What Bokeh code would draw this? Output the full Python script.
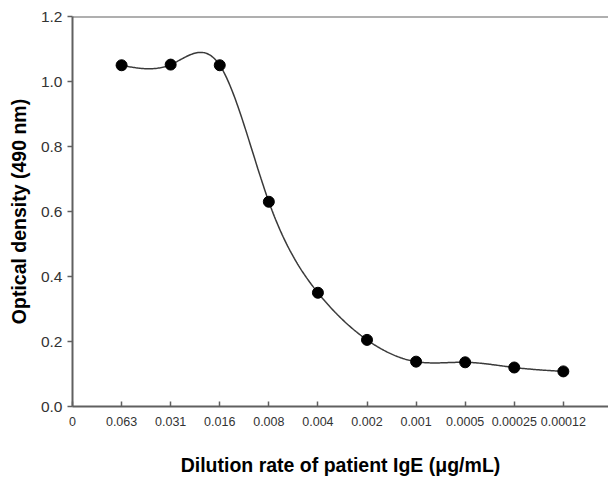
import numpy as np
from bokeh.plotting import figure
from bokeh.models import FixedTicker, Span, Range1d
from bokeh.embed import file_html
from bokeh.resources import INLINE

tick_positions = [0, 1, 2, 3, 4, 5, 6, 7, 8, 9, 10]
tick_labels = ["0", "0.063", "0.031", "0.016", "0.008", "0.004", "0.002",
               "0.001", "0.0005", "0.00025", "0.00012"]
x_pos = [1, 2, 3, 4, 5, 6, 7, 8, 9, 10]
od = [1.050, 1.052, 1.050, 0.630, 0.350, 0.205, 0.138, 0.136, 0.120, 0.108]


def natural_spline(x, y, n=400):
    x = np.asarray(x, float)
    y = np.asarray(y, float)
    k = len(x)
    h = np.diff(x)
    A = np.zeros((k, k))
    b = np.zeros(k)
    A[0, 0] = 1
    A[-1, -1] = 1
    for i in range(1, k - 1):
        A[i, i - 1] = h[i - 1]
        A[i, i] = 2 * (h[i - 1] + h[i])
        A[i, i + 1] = h[i]
        b[i] = 6 * ((y[i + 1] - y[i]) / h[i] - (y[i] - y[i - 1]) / h[i - 1])
    M = np.linalg.solve(A, b)
    xs = np.linspace(x[0], x[-1], n)
    idx = np.clip(np.searchsorted(x, xs) - 1, 0, k - 2)
    x0, x1 = x[idx], x[idx + 1]
    hh = x1 - x0
    t0 = x1 - xs
    t1 = xs - x0
    ys = (M[idx] * t0 ** 3 / (6 * hh) + M[idx + 1] * t1 ** 3 / (6 * hh)
          + (y[idx] / hh - M[idx] * hh / 6) * t0
          + (y[idx + 1] / hh - M[idx + 1] * hh / 6) * t1)
    return xs, ys


p = figure(width=608, height=478, output_backend="svg", toolbar_location=None,
           x_range=Range1d(0, 10.92), y_range=Range1d(0, 1.2),
           min_border_left=72, min_border_right=0, min_border_top=16,
           min_border_bottom=72)
p.outline_line_color = None
p.grid.visible = False
p.background_fill_color = "white"
p.border_fill_color = "white"

xs, ys = natural_spline(x_pos, od)
p.line(xs, ys, line_color="#3a3a3a", line_width=1.5)
p.scatter(x_pos, od, size=11, fill_color="black", line_color="black")

p.add_layout(Span(location=1.2, dimension="width", line_color="#606060", line_width=2))

font = "Liberation Sans"
xa = p.xaxis[0]
xa.ticker = FixedTicker(ticks=tick_positions)
xa.major_label_overrides = {t: l for t, l in zip(tick_positions, tick_labels)}
xa.major_tick_in = 5
xa.major_tick_out = 0
xa.minor_tick_line_color = None
xa.axis_line_color = "#606060"
xa.axis_line_width = 2
xa.major_tick_line_color = "#606060"
xa.major_tick_line_width = 1.5
xa.major_label_text_font = font
xa.major_label_text_font_size = "12.5px"
xa.major_label_text_color = "#333333"
xa.major_label_standoff = 10
xa.axis_label = "Dilution rate of patient IgE (\u03bcg/mL)"
xa.axis_label_text_font = font
xa.axis_label_text_font_style = "bold"
xa.axis_label_text_font_size = "19.5px"
xa.axis_label_text_color = "black"
xa.axis_label_standoff = 25

ya = p.yaxis[0]
ya.ticker = FixedTicker(ticks=[0, 0.2, 0.4, 0.6, 0.8, 1.0, 1.2])
ya.major_label_overrides = {0: "0.0", 0.2: "0.2", 0.4: "0.4", 0.6: "0.6",
                            0.8: "0.8", 1.0: "1.0", 1.2: "1.2"}
ya.major_tick_in = 0
ya.major_tick_out = 5
ya.minor_tick_line_color = None
ya.axis_line_color = "#606060"
ya.axis_line_width = 2
ya.major_tick_line_color = "#606060"
ya.major_tick_line_width = 1.5
ya.major_label_text_font = font
ya.major_label_text_font_size = "15.5px"
ya.major_label_text_color = "#333333"
ya.major_label_standoff = 5
ya.axis_label = "Optical density (490 nm)"
ya.axis_label_text_font = font
ya.axis_label_text_font_style = "bold"
ya.axis_label_text_font_size = "19.5px"
ya.axis_label_text_color = "black"
ya.axis_label_standoff = 8

open("out.html", "w").write(file_html(p, INLINE))
